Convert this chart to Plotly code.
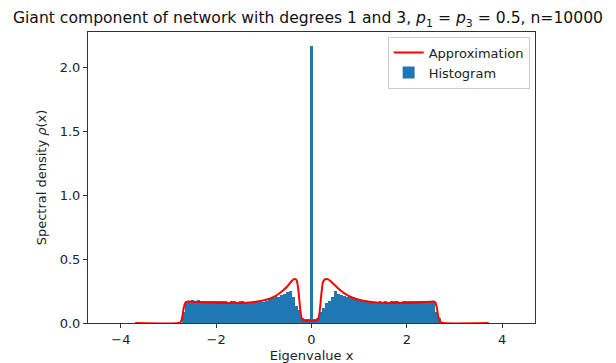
import numpy as np
import plotly.graph_objects as go

# Histogram data (density), bins of equal width starting at bin_start
bin_start = -2.71875
bin_width = 0.0625
hist_left = [0.09, 0.17, 0.175, 0.18, 0.175, 0.18, 0.175, 0.17, 0.175, 0.17,
             0.175, 0.17, 0.17, 0.175, 0.17, 0.165, 0.17, 0.175, 0.165, 0.17,
             0.175, 0.165, 0.16, 0.165, 0.17, 0.165, 0.17, 0.165, 0.175, 0.19,
             0.2, 0.21, 0.205, 0.22, 0.225, 0.24, 0.25, 0.2, 0.13, 0.1,
             0.04, 0.03, 0.03]
hist_center = [2.17]
hist_right = [0.03, 0.04, 0.09, 0.12, 0.16, 0.17, 0.2, 0.25, 0.23, 0.22,
              0.21, 0.2, 0.205, 0.2, 0.19, 0.18, 0.175, 0.17, 0.165, 0.17,
              0.165, 0.16, 0.17, 0.165, 0.17, 0.165, 0.17, 0.175, 0.17, 0.165,
              0.17, 0.175, 0.17, 0.175, 0.17, 0.175, 0.17, 0.175, 0.17, 0.175,
              0.17, 0.09, 0.04]
hist_vals = hist_left + hist_center + hist_right

# Approximation curve
approx_x = [-3.7, -2.78, -2.74, -2.71, -2.68, -2.64, -2.58, -2.5, -2.3, -2.0,
            -1.75, -1.5, -1.25, -1.0, -0.85, -0.7, -0.6, -0.5, -0.45, -0.4,
            -0.36, -0.32, -0.3, -0.28, -0.26, -0.24, -0.22, -0.2, -0.17, -0.1,
            0.0, 0.08, 0.12, 0.14, 0.16, 0.18, 0.2, 0.22, 0.24, 0.28,
            0.32, 0.38, 0.45, 0.55, 0.7, 0.85, 1.0, 1.25, 1.5, 1.75,
            2.0, 2.3, 2.5, 2.56, 2.6, 2.63, 2.66, 2.7, 2.76, 3.72]
approx_y = [0.0, 0.0, 0.01, 0.05, 0.12, 0.16, 0.168, 0.167, 0.162, 0.158,
            0.156, 0.157, 0.163, 0.178, 0.195, 0.225, 0.255, 0.29, 0.315, 0.335,
            0.345, 0.34, 0.32, 0.27, 0.2, 0.12, 0.06, 0.03, 0.02, 0.018,
            0.018, 0.018, 0.02, 0.03, 0.06, 0.12, 0.2, 0.27, 0.32, 0.342,
            0.345, 0.335, 0.31, 0.275, 0.23, 0.2, 0.182, 0.165, 0.158, 0.156,
            0.157, 0.162, 0.167, 0.168, 0.16, 0.12, 0.05, 0.01, 0.0, 0.0]

x_ticks = [-4, -2, 0, 2, 4]
y_ticks = [0.0, 0.5, 1.0, 1.5, 2.0]

centers = bin_start + bin_width * (np.arange(len(hist_vals)) + 0.5)

FONT = "DejaVu Sans"

fig = go.Figure()
fig.add_trace(go.Scatter(
    x=approx_x, y=approx_y, mode="lines", name="Approximation",
    line=dict(color="#ff0000", width=2, shape="spline", smoothing=0.6),
))
fig.add_trace(go.Bar(
    x=centers, y=hist_vals, width=bin_width, name="Histogram",
    marker=dict(color="#1f77b4", line=dict(width=0)),
))

fig.update_layout(
    width=616, height=363,
    margin=dict(l=88, r=81, t=32, b=40),
    paper_bgcolor="white", plot_bgcolor="white",
    font=dict(family=FONT, size=13, color="#222"),
    bargap=0,
    title=dict(
        text="Giant component of network with degrees 1 and 3, <i>p</i><sub>1</sub> = <i>p</i><sub>3</sub> = 0.5, n=10000",
        x=0.5, xref="container", xanchor="center",
        y=1 - 18 / 363, yref="container", yanchor="middle",
        font=dict(family=FONT, size=15.6, color="#111"),
    ),
    legend=dict(
        x=0.988, y=0.984, xanchor="right", yanchor="top",
        bgcolor="rgba(255,255,255,0.8)", bordercolor="#cccccc", borderwidth=1,
        font=dict(family=FONT, size=13, color="#222"),
        traceorder="normal",
    ),
    showlegend=True,
)
fig.update_xaxes(
    range=[-4.69, 4.69], tickvals=x_ticks, ticktext=[("\u2212" if v < 0 else "") + str(abs(v)) for v in x_ticks],
    showgrid=False, zeroline=False, showline=True, linecolor="#333", linewidth=1,
    mirror=True, ticks="outside", ticklen=4, tickcolor="#333",
    title=dict(text="Eigenvalue x", standoff=12, font=dict(family=FONT, size=13)),
    automargin=False,
)
fig.update_yaxes(
    range=[0, 2.28], tickvals=y_ticks, ticktext=[f"{v:.1f}" for v in y_ticks],
    showgrid=False, zeroline=False, showline=True, linecolor="#333", linewidth=1,
    mirror=True, ticks="outside", ticklen=4, tickcolor="#333",
    title=dict(text="Spectral density <i>ρ</i>(x)", standoff=10, font=dict(family=FONT, size=13)),
    automargin=False,
)

fig.write_html("out.html")
